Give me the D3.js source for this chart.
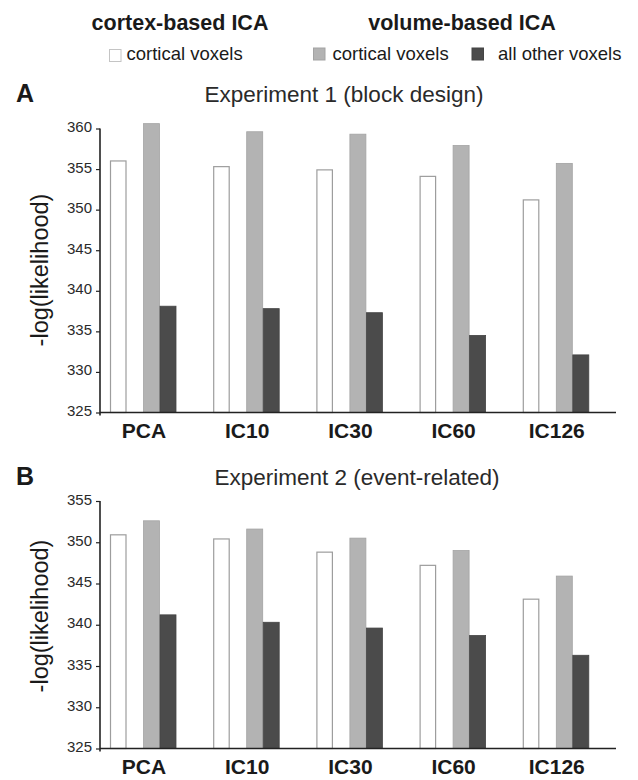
<!DOCTYPE html>
<html>
<head>
<meta charset="utf-8">
<script src="https://cdn.jsdelivr.net/npm/d3@7"></script>
<style>
  body { margin: 0; background: #fff; }
  text { font-family: "Liberation Sans", Arial, sans-serif; }
</style>
</head>
<body>
<div id="chart"></div>
<script>
// categories and series
const categories = ["PCA", "IC10", "IC30", "IC60", "IC126"];
const seriesKeys = ["cortex", "volCortical", "volOther"];

// Experiment 1 (block design)
const exp1Cortex      = [356.0, 355.3, 354.9, 354.1, 351.2];
const exp1VolCortical = [360.6, 359.6, 359.3, 357.9, 355.7];
const exp1VolOther    = [338.1, 337.8, 337.3, 334.5, 332.1];
const exp1Ticks = [325, 330, 335, 340, 345, 350, 355, 360];

// Experiment 2 (event-related)
const exp2Cortex      = [350.9, 350.4, 348.8, 347.2, 343.1];
const exp2VolCortical = [352.6, 351.6, 350.5, 349.0, 345.9];
const exp2VolOther    = [341.2, 340.3, 339.6, 338.7, 336.3];
const exp2Ticks = [325, 330, 335, 340, 345, 350, 355];

const fills   = {cortex: "#ffffff", volCortical: "#b3b3b3", volOther: "#4b4b4b"};
const strokes = {cortex: "#9d9d9d", volCortical: "#a3a3a3", volOther: "#444"};

const W = 638, H = 780;
const svg = d3.select("#chart").append("svg")
    .attr("width", W).attr("height", H);

// header / legend
svg.append("text").attr("x", 180).attr("y", 30).attr("text-anchor", "middle")
    .style("font-size", "21.5px").style("font-weight", "bold").attr("fill", "#1a1a1a")
    .text("cortex-based ICA");
svg.append("text").attr("x", 462).attr("y", 30).attr("text-anchor", "middle")
    .style("font-size", "21.5px").style("font-weight", "bold").attr("fill", "#1a1a1a")
    .text("volume-based ICA");

const legendItems = [
  {key: "cortex", label: "cortical voxels", bx: 109.5, by: 49.5, tx: 126.5},
  {key: "volCortical", label: "cortical voxels", bx: 313.5, by: 48, tx: 332.5},
  {key: "volOther", label: "all other voxels", bx: 472, by: 48, tx: 498}
];
const lg = svg.append("g");
lg.selectAll("rect").data(legendItems).enter().append("rect")
    .attr("x", d => d.bx).attr("y", d => d.by)
    .attr("width", 11.5).attr("height", 12)
    .attr("fill", d => fills[d.key])
    .attr("stroke", d => d.key === "cortex" ? "#c4c4c4" : strokes[d.key]);
lg.selectAll("text").data(legendItems).enter().append("text")
    .attr("x", d => d.tx).attr("y", 60)
    .style("font-size", "18.5px").attr("fill", "#1a1a1a")
    .text(d => d.label);

function drawPanel(opts) {
  const g = svg.append("g");
  const left = 100, right = 616;

  const x0 = d3.scaleBand().domain(categories).range([left, right]);
  // slot layout inside each category: white bar, gap, gray bar, dark bar
  const x1 = d3.scaleBand().domain(["cortex", "gap", "volCortical", "volOther"]).range([10, 76]);
  const y = d3.scaleLinear().domain(opts.domain).range([opts.bottom, opts.top]);

  const rows = categories.map((c, i) => ({
    cat: c,
    cortex: opts.cortex[i],
    volCortical: opts.volCortical[i],
    volOther: opts.volOther[i]
  }));

  const groups = g.selectAll("g.grp").data(rows).enter().append("g")
      .attr("class", "grp")
      .attr("transform", d => `translate(${x0(d.cat)},0)`);

  groups.selectAll("rect")
    .data(d => seriesKeys.map(k => ({key: k, value: d[k]})))
    .enter().append("rect")
      .attr("x", d => x1(d.key) + 0.5)
      .attr("y", d => y(d.value))
      .attr("width", d => x1.bandwidth() - (d.key === "cortex" ? 1 : 0.5))
      .attr("height", d => y(opts.domain[0]) - y(d.value))
      .attr("fill", d => fills[d.key])
      .attr("stroke", d => strokes[d.key])
      .attr("stroke-width", d => d.key === "cortex" ? 1.2 : 0.8);

  // y axis
  const yAxis = d3.axisLeft(y).tickValues(opts.ticks).tickSize(4).tickSizeOuter(0);
  const ya = g.append("g").attr("transform", `translate(${left},0)`).call(yAxis);
  ya.select(".domain").attr("stroke", "#222").attr("stroke-width", 1.6)
    .attr("d", `M0,${opts.top}V${opts.bottom + 3}`);
  ya.selectAll(".tick line").attr("stroke", "#222").attr("stroke-width", 1.2);
  ya.selectAll(".tick text")
    .style("font-size", "15px").style("font-family", "Liberation Sans, Arial, sans-serif")
    .attr("fill", "#2a2a2a").attr("x", -8).attr("dy", "0.2em");

  // baseline
  g.append("line").attr("x1", left).attr("x2", right)
    .attr("y1", opts.bottom).attr("y2", opts.bottom)
    .attr("stroke", "#222").attr("stroke-width", 1.6);

  // category labels
  g.selectAll("text.cat").data(categories).enter().append("text")
    .attr("class", "cat")
    .attr("x", d => x0(d) + 44).attr("y", opts.bottom + 25)
    .attr("text-anchor", "middle")
    .style("font-size", "21px").style("font-weight", "bold").attr("fill", "#1a1a1a")
    .text(d => d);

  // y title
  g.append("text")
    .attr("transform", `translate(48,${opts.ytitleY}) rotate(-90)`)
    .attr("text-anchor", "middle")
    .style("font-size", "23.5px").attr("fill", "#1a1a1a")
    .text("-log(likelihood)");

  // panel letter and title
  g.append("text").attr("x", 16).attr("y", opts.titleY)
    .style("font-size", "25px").style("font-weight", "bold").attr("fill", "#1a1a1a")
    .text(opts.letter);
  g.append("text").attr("x", opts.titleX).attr("y", opts.titleY)
    .attr("text-anchor", "middle")
    .style("font-size", "22.5px").attr("fill", "#2a2a2a")
    .text(opts.title);
}

drawPanel({
  letter: "A", title: "Experiment 1 (block design)", titleX: 344, titleY: 101.5,
  domain: [325, 360], ticks: exp1Ticks, top: 128.5, bottom: 412.5, ytitleY: 270,
  cortex: exp1Cortex, volCortical: exp1VolCortical, volOther: exp1VolOther
});
drawPanel({
  letter: "B", title: "Experiment 2 (event-related)", titleX: 357, titleY: 485,
  domain: [325, 355], ticks: exp2Ticks, top: 501, bottom: 748.5, ytitleY: 616,
  cortex: exp2Cortex, volCortical: exp2VolCortical, volOther: exp2VolOther
});
</script>
</body>
</html>
